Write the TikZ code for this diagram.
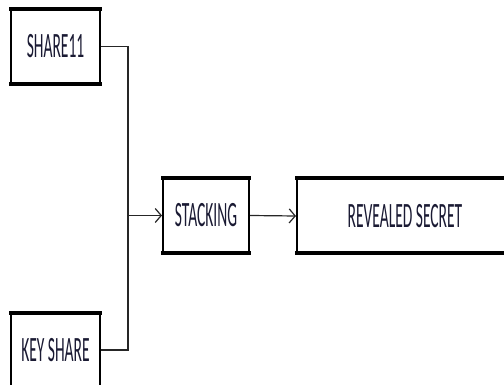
\documentclass[tikz,border=0pt]{standalone}
\usepackage{fontspec}
\setmainfont{Carlito}
\usetikzlibrary{arrows.meta}
\definecolor{txt}{HTML}{1A1A33}
\newcommand{\tallt}[1]{\scalebox{1}[2.3]{\fontsize{15.5}{18}\selectfont\color{txt}#1}}
\tikzset{
  blk/.style={draw=black, line width=2pt, fill=white, inner sep=0pt, minimum height=73pt},
  conn/.style={line width=1.2pt, draw=black!85},
  arr/.style={conn, -{Straight Barb[length=6pt,width=14pt,line width=1.2pt]}}
}
\begin{document}
\begin{tikzpicture}[x=1pt,y=-1pt]
\useasboundingbox (0,0) rectangle (504,385);
\clip (0,0) rectangle (504,385);
\node[blk, minimum width=89pt] (s11) at (55.5,46.5) {\tallt{SHARE11}};
\node[blk, minimum width=89pt] (key) at (55.5,350) {\tallt{KEY SHARE}};
\node[blk, minimum width=86pt] (stk) at (206,215.5) {\tallt{STACKING}};
\node[blk, minimum width=216pt] (rev) at (405,216) {\tallt{REVEALED SECRET}};
\foreach \n in {s11,key,stk,rev}{
  \draw[line width=4pt] ([xshift=-1pt]\n.north west) -- ([xshift=1pt]\n.north east);
  \draw[line width=4pt] ([xshift=-1pt]\n.south west) -- ([xshift=1pt]\n.south east);
}
\coordinate (j) at (128,215.5);
\draw[conn] (s11.east) -| (j);
\draw[conn] (key.east) -| (j);
\draw[arr] (j) -- (stk.west);
\draw[arr] (stk.east) -- (rev.west);
\end{tikzpicture}
\end{document}
